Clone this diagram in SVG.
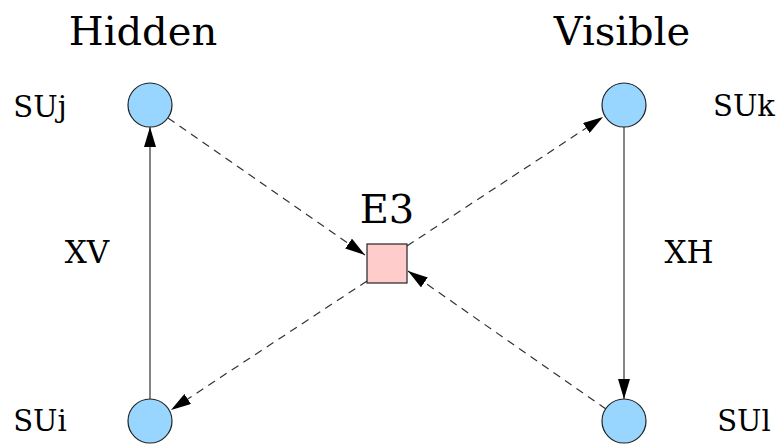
<svg xmlns="http://www.w3.org/2000/svg" width="780" height="444" viewBox="0 0 780 444">
<defs>
<style>
text{font-family:"DejaVu Serif",serif;fill:#000}
.t{font-size:40px}
.l{font-size:29px}
.m{font-size:31px}
.node circle{fill:#99d6ff;stroke:#222;stroke-width:1.2}
.node rect{fill:#ffcccc;stroke:#222;stroke-width:1.2}
.c{stroke:#333;stroke-width:1.2;fill:none}
.d{stroke-dasharray:8,6}
</style>
<marker id="ah" viewBox="0 0 20 12" refX="20" refY="6" markerWidth="20" markerHeight="12" markerUnits="userSpaceOnUse" orient="auto">
<path d="M0,0 L20,6 L0,12 z" fill="#000"/>
</marker>
</defs>
<rect width="780" height="444" fill="#fff"/>
<text class="t" x="143" y="45" text-anchor="middle">Hidden</text>
<text class="t" x="622" y="45" text-anchor="middle">Visible</text>
<g id="connectors">
<line class="c" x1="150" y1="399" x2="150" y2="127" marker-end="url(#ah)"/>
<line class="c" x1="624" y1="127" x2="624" y2="399" marker-end="url(#ah)"/>
<line class="c d" x1="168" y1="118" x2="365" y2="255" marker-end="url(#ah)"/>
<line class="c d" x1="407" y1="246" x2="603" y2="117" marker-end="url(#ah)"/>
<line class="c d" x1="367" y1="281" x2="171" y2="410" marker-end="url(#ah)"/>
<line class="c d" x1="606" y1="409" x2="408" y2="271" marker-end="url(#ah)"/>
</g>
<g id="SUj" class="node"><circle cx="150" cy="105" r="22"/><text class="l" x="40" y="117" text-anchor="middle">SUj</text></g>
<g id="SUk" class="node"><circle cx="624" cy="105" r="22"/><text class="l" x="744" y="116" text-anchor="middle">SUk</text></g>
<g id="SUi" class="node"><circle cx="150" cy="421" r="22"/><text class="l" x="40" y="431" text-anchor="middle">SUi</text></g>
<g id="SUl" class="node"><circle cx="624" cy="421" r="22"/><text class="l" x="744" y="431" text-anchor="middle">SUl</text></g>
<g id="E3" class="node"><rect x="367" y="244" width="40" height="39"/><text class="t" x="387" y="223" text-anchor="middle">E3</text></g>
<g id="labels">
<text class="m" x="87" y="263" text-anchor="middle">XV</text>
<text class="m" x="689" y="263" text-anchor="middle">XH</text>
</g>
</svg>
